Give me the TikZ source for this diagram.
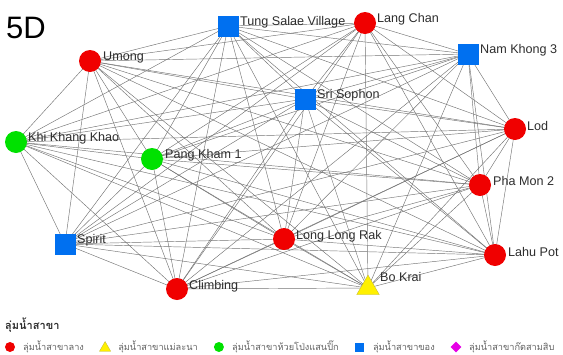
\documentclass[tikz,border=0pt]{standalone}
\usepackage{fontspec}
\setmainfont{Liberation Sans}
\newfontfamily\thaifont[Script=Thai]{Loma}
\usetikzlibrary{shapes.geometric,backgrounds}
\definecolor{nred}{RGB}{240,0,0}
\definecolor{ngreen}{RGB}{0,225,0}
\definecolor{nblue}{RGB}{0,112,240}
\definecolor{nyellow}{RGB}{255,240,0}
\definecolor{nmag}{RGB}{230,0,230}
\definecolor{txt}{RGB}{45,45,45}
\tikzset{
  rnode/.style={circle,fill=nred,inner sep=0pt,minimum size=22pt},
  gnode/.style={circle,fill=ngreen,inner sep=0pt,minimum size=22pt},
  bnode/.style={rectangle,fill=nblue,inner sep=0pt,minimum size=21pt},
  ynode/.style={regular polygon,regular polygon sides=3,fill=nyellow,draw=yellow!70!black,line width=0.3pt,inner sep=0pt,minimum size=26pt},
  lbl/.style={anchor=west,inner sep=0pt,text=txt,font=\fontsize{12.6}{13}\selectfont},
  edge/.style={draw=black!55,line width=0.45pt},
  lgt/.style={anchor=west,inner sep=0pt,text=txt!75,font=\thaifont\fontsize{9.2}{10}\selectfont},
}
\begin{document}
\begin{tikzpicture}[x=1pt,y=-1pt]
\useasboundingbox (0,0) rectangle (563,354);
\node[anchor=west,inner sep=0pt,font=\fontsize{31}{31}\selectfont] (title) at (6,28) {5D};
% nodes
\node[bnode] (n1) at (228,26) {};
\node[rnode] (n2) at (365,23) {};
\node[bnode] (n3) at (468,54) {};
\node[rnode] (n4) at (90,61) {};
\node[bnode] (n5) at (305,99) {};
\node[rnode] (n6) at (515,129) {};
\node[gnode] (n7) at (16,142) {};
\node[gnode] (n8) at (152,159) {};
\node[rnode] (n9) at (480,185) {};
\node[bnode] (n10) at (65,244) {};
\node[rnode] (n11) at (284,239) {};
\node[rnode] (n12) at (495,255) {};
\node[rnode] (n13) at (177,289) {};
\node[ynode] (n14) at (368,288) {};
% edges
\begin{scope}[on background layer]
\foreach \i in {1,...,13}{
  \pgfmathtruncatemacro\s{\i+1}
  \foreach \j in {\s,...,14}{ \draw[edge] (n\i.center) -- (n\j.center); }
}
\end{scope}
% labels
\node[lbl] (t1) at (240,22) {Tung Salae Village};
\node[lbl] (t2) at (377,19) {Lang Chan};
\node[lbl] (t3) at (480,50) {Nam Khong 3};
\node[lbl] (t4) at (103,57) {Umong};
\node[lbl] (t5) at (317,95) {Sri Sophon};
\node[lbl] (t6) at (527,126) {Lod};
\node[lbl] (t7) at (28,138) {Khi Khang Khao};
\node[lbl] (t8) at (165,155) {Pang Kham 1};
\node[lbl] (t9) at (493,181) {Pha Mon 2};
\node[lbl] (t10) at (77,240) {Spirit};
\node[lbl] (t11) at (296,236) {Long Long Rak};
\node[lbl] (t12) at (508,252) {Lahu Pot};
\node[lbl] (t13) at (189,286) {Climbing};
\node[lbl] (t14) at (380,277) {Bo Krai};
% legend
\node[anchor=west,inner sep=0pt,text=txt,font=\thaifont\bfseries\fontsize{11}{12}\selectfont] (lh) at (5,325) {ลุ่มน้ำสาขา};
\node[circle,fill=nred,inner sep=0pt,minimum size=10pt] (m1) at (10,347) {};
\node[lgt] (l1) at ([xshift=13pt]m1.center) {ลุ่มน้ำสาขาลาง};
\node[regular polygon,regular polygon sides=3,fill=nyellow,draw=yellow!70!black,line width=0.3pt,inner sep=0pt,minimum size=13pt] (m2) at ([xshift=21pt,yshift=-1pt]l1.east) {};
\node[lgt] (l2) at ([xshift=13pt,yshift=1pt]m2.center) {ลุ่มน้ำสาขาแม่ละนา};
\node[circle,fill=ngreen,inner sep=0pt,minimum size=10pt] (m3) at ([xshift=21pt]l2.east) {};
\node[lgt] (l3) at ([xshift=13pt]m3.center) {ลุ่มน้ำสาขาห้วยโป่งแสนปิ๊ก};
\node[rectangle,fill=nblue,inner sep=0pt,minimum size=9pt] (m4) at ([xshift=21pt]l3.east) {};
\node[lgt] (l4) at ([xshift=13pt]m4.center) {ลุ่มน้ำสาขาของ};
\node[diamond,fill=nmag,inner sep=0pt,minimum size=11pt] (m5) at ([xshift=21pt]l4.east) {};
\node[lgt] (l5) at ([xshift=13pt]m5.center) {ลุ่มน้ำสาขาก๊ดสามสิบ};
\end{tikzpicture}
\end{document}
